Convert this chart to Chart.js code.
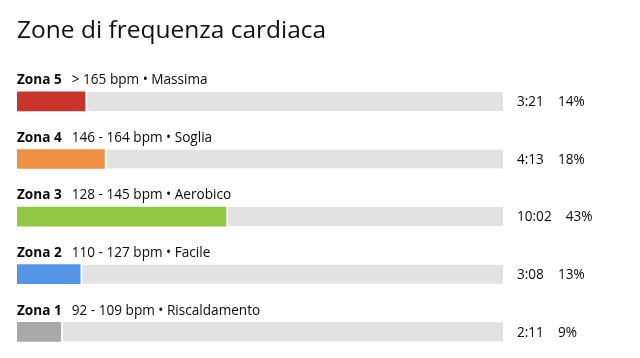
<!DOCTYPE html>
<html>
<head>
<meta charset="utf-8">
<script src="https://cdn.jsdelivr.net/npm/chart.js@4/dist/chart.umd.min.js"></script>
<style>
  html, body { margin: 0; padding: 0; background: #ffffff; overflow: hidden; }
  #wrap { position: relative; width: 640px; height: 362px; }
</style>
</head>
<body>
<div id="wrap"><canvas id="c"></canvas></div>
<script>
const title = "Zone di frequenza cardiaca";
const zones = ["Zona 5", "Zona 4", "Zona 3", "Zona 2", "Zona 1"];
const ranges = ["> 165 bpm • Massima", "146 - 164 bpm • Soglia", "128 - 145 bpm • Aerobico", "110 - 127 bpm • Facile", "92 - 109 bpm • Riscaldamento"];
const times = ["3:21", "4:13", "10:02", "3:08", "2:11"];
const percents = [14, 18, 43, 13, 9];
const colors = ["#C9352C", "#EE9142", "#92C645", "#5495E6", "#A8A8A8"];
const trackColor = "#E2E2E2";

const remainder = percents.map(p => 100 - p);
const FONT = "'Open Sans', 'Noto Sans', sans-serif";

const textPlugin = {
  id: 'zoneText',
  afterDatasetsDraw(chart) {
    const ctx = chart.ctx;
    const area = chart.chartArea;
    const yScale = chart.scales.y;
    ctx.save();
    ctx.fillStyle = '#111111';
    ctx.textBaseline = 'alphabetic';
    ctx.textAlign = 'left';
    ctx.font = '24.5px ' + FONT;
    ctx.fillText(title, 17, 38);
    zones.forEach((z, i) => {
      const yc = yScale.getPixelForValue(i);
      const base = yc - 17.3;
      ctx.fillStyle = '#0a0a0a';
      ctx.font = 'bold 13.6px ' + FONT;
      ctx.textBaseline = 'alphabetic';
      ctx.fillText(z, area.left, base);
      const w = ctx.measureText(z).width;
      ctx.font = '13.6px ' + FONT;
      ctx.fillText(ranges[i], area.left + w + 10, base);
      ctx.textBaseline = 'middle';
      const tx = area.right + 14;
      ctx.fillText(times[i], tx, yc + 1);
      const tw = ctx.measureText(times[i]).width;
      ctx.fillText(percents[i] + '%', tx + tw + 14, yc + 1);
    });
    ctx.restore();
  }
};

new Chart(document.getElementById('c'), {
  type: 'bar',
  data: {
    labels: zones,
    datasets: [
      {
        data: percents,
        backgroundColor: colors,
        borderWidth: 0,
        barThickness: 19
      },
      {
        data: remainder,
        backgroundColor: trackColor,
        borderColor: '#ffffff',
        borderWidth: { left: 2.5, right: 0, top: 0, bottom: 0 },
        borderSkipped: false,
        barThickness: 19
      }
    ]
  },
  options: {
    indexAxis: 'y',
    responsive: true,
    maintainAspectRatio: false,
    animation: false,
    layout: { padding: { left: 17, right: 137, top: 72.6, bottom: 1.4 } },
    scales: {
      x: { display: false, stacked: true, min: 0, max: 100 },
      y: { display: false, stacked: true, offset: true }
    },
    plugins: {
      legend: { display: false },
      tooltip: { enabled: false },
      title: { display: false }
    }
  },
  plugins: [textPlugin]
});
</script>
</body>
</html>
